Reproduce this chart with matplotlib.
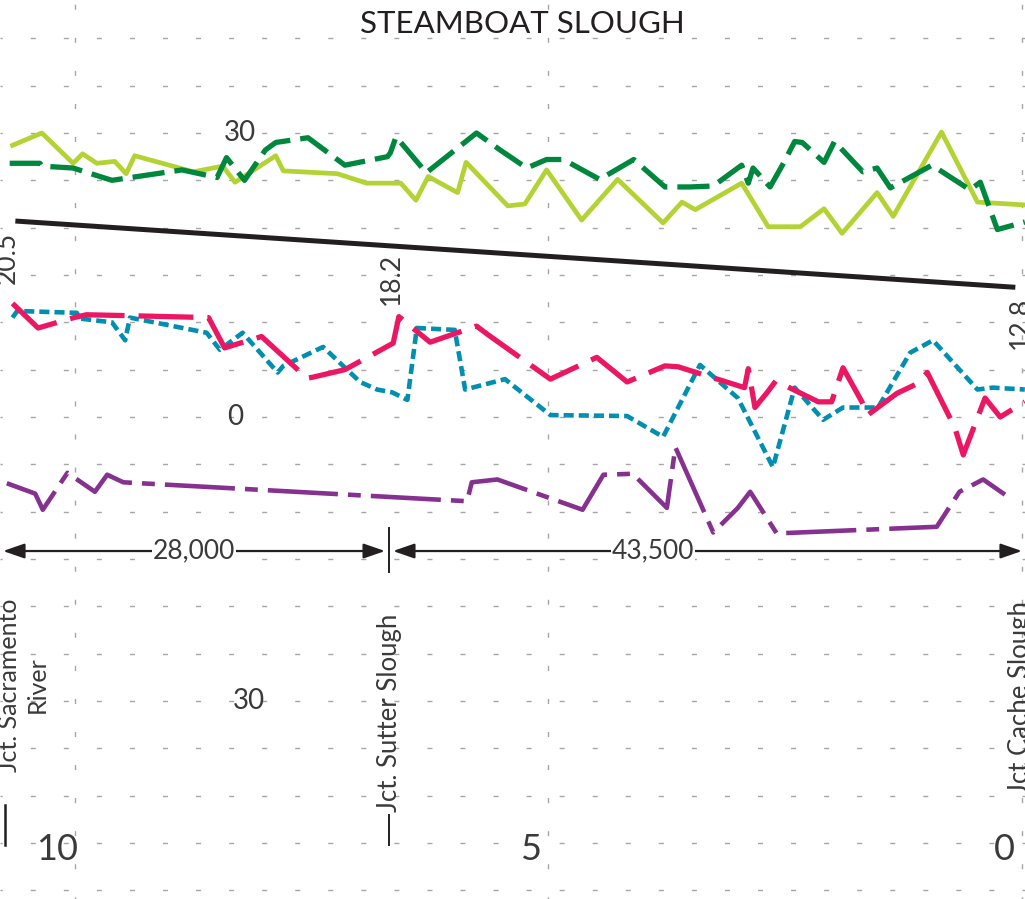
import numpy as np
import matplotlib.pyplot as plt

# river miles above the mouth (x) and plotted values (y)
lg_mile = [10.66, 10.35, 10.02, 9.92, 9.77, 9.58, 9.46, 9.37, 8.75, 8.44, 8.31, 7.88, 7.80,
           7.23, 6.92, 6.56, 6.40, 6.27, 5.96, 5.87, 5.43, 5.25, 5.02, 4.65, 4.27, 3.79,
           3.59, 3.45, 2.96, 2.68, 2.34, 2.09, 1.90, 1.53, 1.36, 0.85, 0.47, -0.03]
lg_val = [28.7, 30.0, 26.8, 27.8, 26.8, 27.0, 25.7, 27.6, 25.9, 26.5, 24.8, 27.6, 26.0,
          25.7, 24.7, 24.7, 22.9, 25.4, 23.7, 26.9, 22.3, 22.5, 26.1, 20.8, 25.1, 20.5,
          22.7, 21.9, 24.7, 20.1, 20.1, 22.0, 19.4, 23.7, 21.2, 30.1, 22.7, 22.4]

dg_mile = [10.69, 10.37, 10.35, 10.02, 9.61, 8.87, 8.50, 8.40, 8.21, 7.99, 7.88, 7.54,
           7.15, 6.70, 6.67, 6.61, 6.29, 5.76, 5.51, 5.23, 5.02, 4.86, 4.77, 4.46, 4.10,
           3.77, 3.51, 3.26, 2.96, 2.89, 2.84, 2.66, 2.53, 2.40, 2.32, 2.09, 1.98, 1.68,
           1.53, 1.39, 0.95, 0.55, 0.44, 0.26, -0.03]
dg_val = [26.8, 26.8, 26.5, 26.3, 25.0, 26.1, 25.3, 27.4, 25.0, 28.2, 29.0, 29.5,
          26.6, 27.5, 27.9, 29.6, 25.8, 30.0, 28.2, 26.3, 27.2, 27.2, 26.8, 25.1, 27.2,
          24.3, 24.3, 24.4, 26.6, 24.7, 26.3, 24.3, 26.6, 29.1, 29.0, 26.9, 29.1, 25.9,
          26.3, 24.2, 26.6, 24.0, 24.8, 19.8, 20.6]

pk_mile = [10.66, 10.39, 10.01, 9.88, 9.42, 8.59, 8.42, 8.03, 7.55, 7.49, 7.15, 6.64,
           6.58, 6.25, 5.76, 5.64, 4.98, 4.49, 4.17, 3.77, 3.63, 2.93, 2.89, 2.82, 2.69,
           2.60, 2.15, 2.01, 1.89, 1.69, 1.63, 1.32, 1.11, 1.00, 0.71, 0.62, 0.39, 0.23, -0.03]
pk_val = [12.0, 9.4, 10.5, 10.8, 10.7, 10.5, 7.3, 8.5, 4.1, 4.2, 5.0, 7.8,
          10.6, 7.9, 9.6, 8.7, 4.0, 6.3, 3.7, 5.4, 5.3, 3.1, 5.1, 1.0, 2.6,
          3.8, 1.6, 1.6, 5.2, 1.6, 0.2, 2.5, 3.5, 4.7, -1.1, -4.0, 2.0, 0.0, 1.6]

tl_mile = [10.66, 10.61, 9.98, 9.95, 9.61, 9.47, 9.42, 8.61, 8.47, 8.23, 7.86, 7.80,
           7.38, 6.99, 6.81, 6.65, 6.49, 6.39, 5.99, 5.88, 5.46, 4.98, 4.17, 3.79, 3.40,
           3.00, 2.63, 2.40, 2.10, 1.89, 1.52, 1.18, 0.94, 0.47, 0.31, -0.03]
tl_val = [10.5, 11.2, 11.0, 10.4, 10.0, 8.1, 10.5, 8.9, 7.1, 8.9, 4.7, 5.4,
          7.4, 3.7, 2.9, 2.6, 1.8, 9.4, 9.2, 2.9, 4.0, 0.2, 0.1, -2.1, 5.5,
          2.0, -5.3, 3.1, -0.3, 1.0, 1.0, 6.8, 8.1, 2.9, 3.1, 2.9]

pu_mile = [10.72, 10.42, 10.34, 10.08, 9.79, 9.66, 9.49, 5.86, 5.81, 5.54, 4.64, 4.42,
           4.11, 3.75, 3.66, 3.26, 3.00, 2.87, 2.59, 0.90, 0.66, 0.41, 0.18]
pu_val = [-7.0, -8.1, -9.8, -5.9, -7.9, -6.1, -6.9, -8.9, -6.9, -6.6, -9.8, -6.1,
          -6.0, -9.6, -3.2, -12.2, -9.6, -7.9, -12.3, -11.6, -7.9, -6.6, -8.2]

bk_mile = [10.63, 0.07]
bk_val = [20.7, 13.7]

grid_vals = np.arange(-50, 41, 5)
grid_miles = [10, 5, 0]
mile_labels = ['10', '5', '0']

plt.rcParams['font.family'] = ['Lato', 'DejaVu Sans']

fig = plt.figure(figsize=(10.25, 8.99), dpi=100)
ax = fig.add_axes([0, 0, 1, 1])
ax.set_xlim(10.792, -0.032)
ax.set_ylim(-50.92, 44.05)
ax.axis('off')

gridcol = '#a6a6a6'
for v in grid_vals:
    ax.axhline(v, color=gridcol, lw=1, ls=(2, (3.6, 20.2)), zorder=0)
for m in grid_miles:
    ax.axvline(m, color=gridcol, lw=1, ls=(2, (3.6, 20.2)), zorder=0)

ax.plot(bk_mile, bk_val, color='#231f20', lw=3.6, solid_capstyle='butt')
ax.plot(lg_mile, lg_val, color='#b3d334', lw=3.4)
ax.plot(dg_mile, dg_val, color='#00873e', lw=3.8, ls=(0, (6.1, 1.9)))
ax.plot(tl_mile, tl_val, color='#008fb0', lw=3.3, ls=(0, (2.2, 1.1)))
ax.plot(pk_mile, pk_val, color='#ec1763', lw=3.8, ls=(0, (10.4, 2.65)))
ax.plot(pu_mile, pu_val, color='#86318f', lw=3.3, ls=(0, (15.3, 2.2, 2.8, 2.2)))

txtcol = '#3a3a3a'
fig.text(0.51, 0.973, 'STEAMBOAT SLOUGH', ha='center', va='center',
         fontsize=22.5, color='#231f20')

ax.text(8.26, 30, '30', ha='center', va='center', fontsize=20, color=txtcol)
ax.text(8.31, 0, '0', ha='center', va='center', fontsize=20, color=txtcol)
ax.text(8.16, -30, '30', ha='center', va='center', fontsize=20, color=txtcol)

for m, lab in zip(grid_miles, mile_labels):
    ax.text(m + 0.19, -45.7, lab, ha='center', va='center', fontsize=26, color=txtcol)

# slope values along the water-surface line
ax.text(10.72, 16.8, '20.5', rotation=90, ha='center', va='center', fontsize=19,
        color=txtcol)
ax.text(6.66, 14.6, '18.2', rotation=90, ha='center', va='center', fontsize=19,
        color=txtcol)
ax.text(0.02, 9.9, '12.8', rotation=90, ha='center', va='center', fontsize=19,
        color=txtcol)

# distances between junctions
arr = dict(arrowstyle='<|-|>,head_length=1.3,head_width=0.45', color='#231f20', lw=1.6,
           shrinkA=0, shrinkB=0)
ax.annotate('', xy=(6.726, -14.16), xytext=(10.76, -14.16), arrowprops=arr)
ax.annotate('', xy=(0.0, -14.16), xytext=(6.642, -14.16), arrowprops=arr)
ax.text(8.74, -14.16, '28,000', ha='center', va='center', fontsize=19, color=txtcol,
        bbox=dict(fc='white', ec='none', pad=0.5))
ax.text(3.9, -14.16, '43,500', ha='center', va='center', fontsize=19, color=txtcol,
        bbox=dict(fc='white', ec='none', pad=0.5))
ax.plot([6.684, 6.684], [-11.7, -16.4], color='#231f20', lw=1.4)

# junction labels
ax.plot([10.739, 10.739], [-41.0, -45.2], color='#231f20', lw=1.8)
ax.plot([6.684, 6.684], [-42.0, -45.2], color='#231f20', lw=1.4)
ax.text(10.54, -28.3, 'Jct. Sacramento\nRiver', rotation=90, ha='center', va='center',
        fontsize=18, color=txtcol, linespacing=1.25)
ax.text(6.674, -31.2, 'Jct. Sutter Slough', rotation=90, ha='center', va='center',
        fontsize=18.5, color=txtcol)
ax.text(0.02, -29.6, 'Jct Cache Slough', rotation=90, ha='center', va='center',
        fontsize=18.5, color=txtcol)

fig.savefig('out.png', dpi=100)
